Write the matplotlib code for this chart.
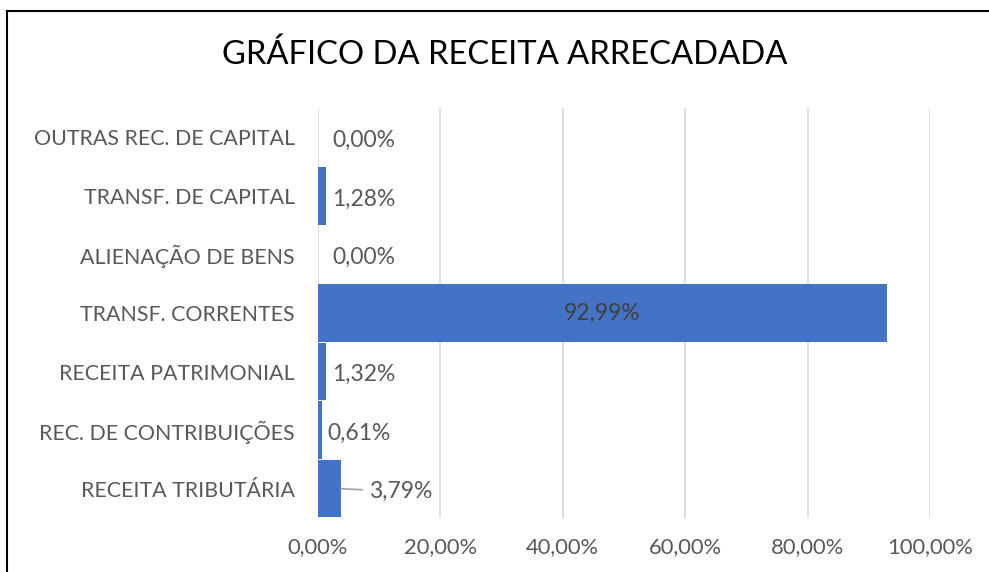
import matplotlib
matplotlib.use("Agg")
import matplotlib.pyplot as plt
from matplotlib.lines import Line2D

categories = ["RECEITA TRIBUTÁRIA", "REC. DE CONTRIBUIÇÕES", "RECEITA PATRIMONIAL",
              "TRANSF. CORRENTES", "ALIENAÇÃO DE BENS", "TRANSF. DE CAPITAL",
              "OUTRAS REC. DE CAPITAL"]
values = [3.79, 0.61, 1.32, 92.99, 0.00, 1.28, 0.00]
xticks = [0, 20, 40, 60, 80, 100]
title = "GRÁFICO DA RECEITA ARRECADADA"

FONT = ["Lato", "DejaVu Sans"]
plt.rcParams["font.family"] = FONT

W, H = 989, 572
fig = plt.figure(figsize=(W / 100, H / 100), dpi=100)
ax = fig.add_axes([318 / W, 1 - 518 / H, (930 - 318) / W, (518 - 108) / H])

blue = "#4472C4"
ypos = list(range(len(categories)))
ax.barh(ypos, values, height=0.98, color=blue, zorder=3)

ax.set_xlim(0, 100)
ax.set_ylim(-0.5, len(categories) - 0.5)
ax.set_xticks(xticks)
ax.set_xticklabels([f"{t:.2f}".replace(".", ",") + "%" for t in xticks],
                   fontsize=15.8, color="#595959")
ax.set_yticks(ypos)
ax.set_yticklabels(categories, fontsize=15.4, color="#595959")
ax.tick_params(axis="both", length=0)
ax.tick_params(axis="y", pad=16.5)
ax.tick_params(axis="x", pad=14)
ax.grid(axis="x", color="#D9D9D9", linewidth=1.2, zorder=0)
for s in ax.spines.values():
    s.set_visible(False)

LFS = 16.5
for i, v in enumerate(values):
    lbl = f"{v:.2f}".replace(".", ",") + "%"
    if v > 50:
        ax.text(v / 2, i, lbl, ha="center", va="center", fontsize=LFS,
                color="#404040", zorder=4)
    elif i == 0:
        ax.annotate(lbl, xy=(v, i), xytext=(28, -3), textcoords="offset pixels",
                    ha="left", va="center", fontsize=LFS, color="#595959",
                    arrowprops=dict(arrowstyle="-", color="#A6A6A6", lw=1.3,
                                    shrinkA=3, shrinkB=0))
    else:
        off = 14 if v == 0 else 6
        ax.annotate(lbl, xy=(v, i), xytext=(off, -3), textcoords="offset pixels",
                    ha="left", va="center", fontsize=LFS, color="#595959")

fig.text(505 / W, 1 - 55 / H, title, ha="center", va="center", fontsize=23.6,
         color="#000000")

# outer chart border (top and left visible)
fig.add_artist(Line2D([7 / W, 7 / W], [0, 1 - 11 / H], transform=fig.transFigure,
                      color="black", lw=1.5))
fig.add_artist(Line2D([7 / W, 1], [1 - 11 / H, 1 - 11 / H], transform=fig.transFigure,
                      color="black", lw=1.5))

fig.savefig("out.png", dpi=100, facecolor="white")
